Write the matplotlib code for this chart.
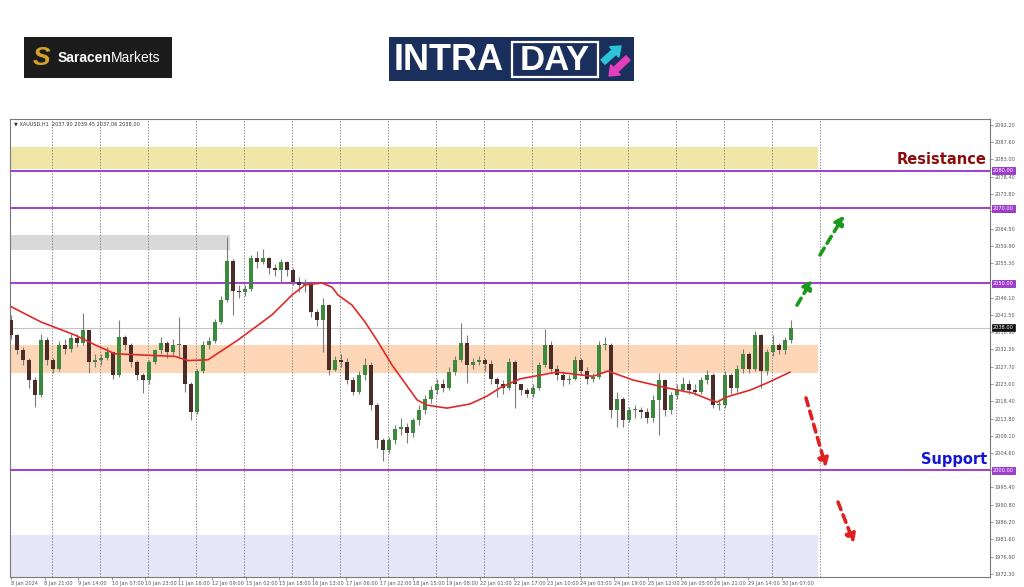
import numpy as np
import matplotlib.pyplot as plt
from matplotlib.patches import Rectangle, FancyArrow

# ---- data (XAUUSD H1, one candle drawn every 3 bars) ----
open0 = 2040.1
close = [2036.1, 2032.1, 2029.4, 2024.1, 2020.1, 2034.8, 2029.4, 2027.0, 2033.5, 2032.5,
         2035.3, 2034.0, 2037.5, 2029.0, 2029.5, 2030.0, 2031.5, 2025.5, 2035.5, 2033.5,
         2029.0, 2025.5, 2024.0, 2029.0, 2032.0, 2034.0, 2031.5, 2033.5, 2033.5, 2023.0,
         2015.5, 2026.5, 2033.5, 2034.5, 2039.5, 2045.5, 2056.0, 2048.0, 2047.5, 2048.5,
         2056.7, 2055.5, 2056.7, 2054.0, 2053.5, 2055.5, 2053.5, 2050.3, 2049.5, 2050.0,
         2042.3, 2040.0, 2044.0, 2026.8, 2029.5, 2029.0, 2024.0, 2021.0, 2025.5, 2028.0,
         2017.5, 2008.0, 2005.5, 2008.0, 2011.0, 2011.5, 2010.0, 2013.5, 2016.0, 2019.0,
         2021.5, 2023.0, 2022.0, 2026.3, 2029.5, 2034.0, 2028.0, 2029.0, 2029.5, 2028.5,
         2024.5, 2023.0, 2022.0, 2029.0, 2023.0, 2021.5, 2020.5, 2022.0, 2028.0, 2033.5,
         2027.0, 2025.5, 2024.0, 2024.5, 2029.5, 2026.5, 2024.5, 2025.0, 2033.5, 2033.5,
         2016.0, 2019.0, 2013.5, 2016.0, 2016.0, 2015.5, 2014.0, 2018.8, 2024.0, 2016.0,
         2020.0, 2021.5, 2023.0, 2021.5, 2021.0, 2024.0, 2025.5, 2017.5, 2017.5, 2025.5,
         2022.0, 2027.0, 2031.0, 2027.0, 2036.0, 2026.5, 2031.5, 2033.5, 2032.0, 2034.8,
         2038.0]
high = [2041.5, 2036.5, 2033.0, 2030.0, 2025.0, 2036.5, 2035.5, 2030.0, 2034.5, 2035.0,
        2036.5, 2036.5, 2042.0, 2037.5, 2031.0, 2031.0, 2033.0, 2031.5, 2040.0, 2036.0,
        2034.0, 2029.5, 2026.0, 2029.5, 2032.5, 2035.5, 2034.5, 2035.0, 2041.0, 2033.5,
        2023.5, 2027.0, 2034.5, 2035.5, 2040.5, 2046.5, 2062.3, 2056.5, 2049.5, 2049.5,
        2057.5, 2058.5, 2059.0, 2057.0, 2055.0, 2056.5, 2056.0, 2054.0, 2051.5, 2051.0,
        2050.5, 2043.0, 2046.0, 2044.5, 2030.5, 2031.0, 2030.0, 2025.0, 2026.5, 2030.0,
        2029.0, 2018.0, 2008.5, 2009.0, 2012.0, 2014.0, 2012.5, 2014.0, 2017.5, 2020.0,
        2022.5, 2024.5, 2024.5, 2027.5, 2030.5, 2039.3, 2036.0, 2030.0, 2030.5, 2030.0,
        2029.5, 2025.0, 2024.0, 2030.0, 2029.5, 2023.0, 2022.0, 2023.0, 2029.0, 2037.7,
        2034.5, 2028.0, 2026.5, 2025.5, 2030.5, 2030.0, 2027.5, 2026.0, 2034.5, 2035.5,
        2034.0, 2021.0, 2019.5, 2017.0, 2017.5, 2017.0, 2016.5, 2020.0, 2026.0, 2024.5,
        2021.0, 2023.0, 2025.0, 2024.0, 2023.0, 2025.0, 2026.8, 2026.0, 2019.0, 2026.5,
        2026.0, 2028.0, 2032.5, 2031.5, 2037.3, 2036.5, 2032.5, 2036.0, 2034.0, 2035.5,
        2040.2]
low = [2035.0, 2031.0, 2028.0, 2022.0, 2017.0, 2019.5, 2028.0, 2026.0, 2026.5, 2031.0,
       2031.5, 2033.0, 2033.5, 2026.0, 2027.5, 2028.0, 2029.5, 2024.5, 2025.0, 2032.0,
       2027.5, 2024.0, 2020.6, 2023.0, 2028.5, 2031.0, 2030.0, 2030.5, 2030.0, 2021.0,
       2013.5, 2015.0, 2026.0, 2032.5, 2034.0, 2039.0, 2045.0, 2041.5, 2046.0, 2046.5,
       2048.0, 2054.0, 2055.0, 2052.5, 2052.0, 2050.0, 2052.0, 2049.5, 2047.5, 2047.5,
       2041.0, 2038.5, 2031.6, 2025.5, 2026.5, 2027.5, 2023.0, 2020.0, 2020.5, 2024.0,
       2016.0, 2006.0, 2002.5, 2004.5, 2007.0, 2009.5, 2007.3, 2009.0, 2012.0, 2015.0,
       2018.0, 2020.5, 2021.0, 2021.5, 2025.5, 2029.0, 2023.3, 2027.0, 2028.0, 2026.5,
       2023.0, 2019.5, 2020.5, 2021.5, 2016.6, 2020.0, 2019.5, 2019.5, 2021.5, 2027.5,
       2026.0, 2024.0, 2022.5, 2023.0, 2024.0, 2025.5, 2023.0, 2023.5, 2024.5, 2032.0,
       2014.0, 2011.6, 2011.5, 2013.0, 2014.0, 2014.0, 2012.5, 2013.0, 2009.4, 2014.5,
       2015.0, 2019.0, 2021.0, 2020.5, 2020.0, 2020.5, 2023.0, 2016.5, 2016.0, 2016.5,
       2020.5, 2021.0, 2026.0, 2026.0, 2026.5, 2022.0, 2025.5, 2030.5, 2031.0, 2031.0,
       2034.0]

# moving average (red line), bar index / price
ma_bar = [-1.5, 15, 32, 42, 52, 65, 82, 88.5, 98.5, 113.5, 130.5, 140.5, 147, 155.5, 160.5,
          163.5, 170.5, 177, 183.5, 190.5, 197, 203, 208, 218, 229.5, 238, 244.5, 254.5,
          264.5, 273, 281, 291, 298.5, 311, 328, 341, 349.5, 353, 358, 369.5, 378, 389.5]
ma_val = [2044.1, 2039.6, 2036.1, 2033.5, 2031.1, 2030.8, 2030.4, 2029.3, 2029.5, 2034.8,
          2041.5, 2046.8, 2049.5, 2050.0, 2048.9, 2046.8, 2044.1, 2039.6, 2034.3, 2028.1,
          2023.3, 2018.8, 2017.4, 2016.6, 2017.7, 2019.8, 2022.0, 2024.4, 2025.4, 2026.2,
          2025.7, 2025.1, 2026.5, 2024.1, 2022.0, 2020.6, 2018.8, 2018.2, 2019.6, 2021.4,
          2023.3, 2026.2]

levels = [2080.0, 2070.0, 2050.0, 2000.0]
last_price = 2038.0
zone_res = (2080.5, 2086.3)
zone_mid = (2026.0, 2033.5)
zone_sup = (1971.5, 1982.7)
zone_old = (2058.8, 2062.8)

# 2050.70 sits under the 2050.00 box, so it is not printed
ytick_vals = [2092.20, 2087.60, 2083.00, 2078.40, 2073.80, 2069.20, 2064.50, 2059.90,
              2055.30, 2046.10, 2041.50, 2036.90, 2032.30, 2027.70, 2023.00,
              2018.40, 2013.80, 2009.10, 2004.60, 2000.00, 1995.40, 1990.80, 1986.20,
              1981.60, 1976.90, 1972.30]
xtick_labels = ['8 Jan 2024', '8 Jan 21:00', '9 Jan 14:00', '10 Jan 07:00', '10 Jan 23:00',
                '11 Jan 16:00', '12 Jan 09:00', '15 Jan 02:00', '15 Jan 18:00', '16 Jan 13:00',
                '17 Jan 06:00', '17 Jan 22:00', '18 Jan 15:00', '19 Jan 08:00', '22 Jan 01:00',
                '22 Jan 17:00', '23 Jan 10:00', '24 Jan 03:00', '24 Jan 19:00', '25 Jan 12:00',
                '26 Jan 05:00', '26 Jan 21:00', '29 Jan 14:00', '30 Jan 07:00']

W, H = 1024, 587
fig = plt.figure(figsize=(W / 100, H / 100), dpi=100)
fig.patch.set_facecolor('white')

# ---- header logos (pixel coordinates) ----
hdr = fig.add_axes([0, 0, 1, 1])
hdr.set_xlim(0, W)
hdr.set_ylim(H, 0)
hdr.axis('off')

hdr.add_patch(Rectangle((24, 37), 148, 41, fc='#1c1c1c', ec='none'))
hdr.text(41, 58, 'S', color='#d6a12b', fontsize=19, fontweight='bold', style='italic',
         ha='center', va='center', family='Liberation Sans')
hdr.text(58, 58, 'Saracen', color='white', fontsize=10, fontweight='bold',
         ha='left', va='center', family='Liberation Sans')
hdr.text(111, 58, 'Markets', color='white', fontsize=10,
         ha='left', va='center', family='Liberation Sans')

hdr.add_patch(Rectangle((389, 37), 245, 44, fc='#1b2f5c', ec='none'))
hdr.text(394, 60, 'INTRA', color='white', fontsize=26, fontweight='bold',
         ha='left', va='center', family='Liberation Sans')
hdr.add_patch(Rectangle((512, 42), 86, 35, fc='none', ec='white', lw=1.6))
hdr.text(555, 60, 'DAY', color='white', fontsize=25, fontweight='bold',
         ha='center', va='center', family='Liberation Sans')
hdr.add_patch(FancyArrow(603, 62, 18, -16, width=6, head_width=14, head_length=9,
                         color='#2cc4d8', length_includes_head=True))
hdr.add_patch(FancyArrow(628, 58, -19, 18, width=6, head_width=14, head_length=9,
                         color='#e23fbf', length_includes_head=True))

# ---- chart ----
ax = fig.add_axes([10 / W, 1 - 577 / H, 980 / W, 458 / H])
ax.set_facecolor('white')
ax.set_xlim(-0.5, 489.5)
ax.set_ylim(1971.5, 2093.8)

zone_end = 403.5
ax.add_patch(Rectangle((-0.5, zone_res[0]), zone_end + 0.5, zone_res[1] - zone_res[0],
                       fc='#f0e6a8', ec='none', zorder=0))
ax.add_patch(Rectangle((-0.5, zone_mid[0]), zone_end + 0.5, zone_mid[1] - zone_mid[0],
                       fc='#fcd6b6', ec='none', zorder=0))
ax.add_patch(Rectangle((-0.5, zone_sup[0]), zone_end + 0.5, zone_sup[1] - zone_sup[0],
                       fc='#e6e6f8', ec='none', zorder=0))
ax.add_patch(Rectangle((-0.5, zone_old[0]), 110, zone_old[1] - zone_old[0],
                       fc='#d9d9d9', ec='none', zorder=0))

for k in range(17):
    ax.axvline(20.5 + 24 * k, color='#8c8c8c', ls=(0, (1.5, 1.5)), lw=0.7, zorder=1)

ax.axhline(last_price, color='#c4c4c4', lw=0.8, zorder=1)
for lv in levels:
    ax.axhline(lv, color='#a23cd0', lw=1.4, zorder=3)

# candles
o = np.array([open0] + close[:-1])
c = np.array(close)
x = 3 * np.arange(len(c))
ax.vlines(x, low, high, color='#7c7c7c', lw=0.8, zorder=4)
body_lo = np.minimum(o, c)
body_h = np.maximum(np.abs(c - o), 0.3)
cols = np.where(c >= o, '#3b8a3e', '#4a2d28')
ax.bar(x, body_h, bottom=body_lo, width=2.0, color=cols, lw=0, zorder=5)

ax.plot(ma_bar, ma_val, color='#e02a2a', lw=1.2, zorder=6)

# dashed scenario arrows
arrows = [((393, 2044.1), (400.5, 2050.8), '#1a9a1a'),
          ((404.5, 2057.5), (416.5, 2068.0), '#1a9a1a'),
          ((397.5, 2019.3), (407.5, 2000.8), '#e02020'),
          ((413.5, 1991.5), (421.5, 1980.6), '#e02020')]
for tail, head, col in arrows:
    ax.annotate('', xy=head, xytext=tail, zorder=7,
                arrowprops=dict(arrowstyle='-|>,head_length=0.5,head_width=0.3', lw=2.6,
                                ls=(0, (2.2, 1.6)), color=col, mutation_scale=10,
                                shrinkA=0, shrinkB=0))

ax.text(488, 2083.0, 'Resistance', ha='right', va='center', fontsize=10.5,
        fontweight='bold', color='#8b0d0d', zorder=8)
ax.text(488, 2003.0, 'Support', ha='right', va='center', fontsize=10.5,
        fontweight='bold', color='#1414d4', zorder=8)

ax.text(0.004, 0.994, '\u25bc XAUUSD,H1  2037.90 2039.45 2037.06 2038.00',
        transform=ax.transAxes, fontsize=3.6, va='top', ha='left', color='#333333')

# axes, ticks
ax.yaxis.tick_right()
ax.set_yticks(ytick_vals)
ax.set_yticklabels([f'{v:.2f}' for v in ytick_vals], fontsize=3.6, color='#555555')
ax.set_xticks([16.75 * k for k in range(len(xtick_labels))])
ax.set_xticklabels(xtick_labels, fontsize=3.6, color='#555555', ha='left')
ax.tick_params(axis='both', length=2, width=0.5, pad=1.2, colors='#777777')
for lab in ax.get_xticklabels() + ax.get_yticklabels():
    lab.set_color('#555555')
for sp in ax.spines.values():
    sp.set_color('#7a7a7a')
    sp.set_linewidth(0.8)

for lv in levels:
    ax.annotate(f'{lv:.2f}', xy=(1.0, lv), xycoords=('axes fraction', 'data'),
                xytext=(2.2, 0), textcoords='offset points', fontsize=3.6, color='white',
                va='center', ha='left', annotation_clip=False, zorder=9,
                bbox=dict(boxstyle='square,pad=0.2', fc='#a23cd0', ec='#7a1fb0', lw=0.5))
ax.annotate(f'{last_price:.2f}', xy=(1.0, last_price), xycoords=('axes fraction', 'data'),
            xytext=(2.2, 0), textcoords='offset points', fontsize=3.6, color='white',
            va='center', ha='left', annotation_clip=False, zorder=9,
            bbox=dict(boxstyle='square,pad=0.2', fc='#111111', ec='#111111', lw=0.5))

fig.savefig('out.png', dpi=100)
